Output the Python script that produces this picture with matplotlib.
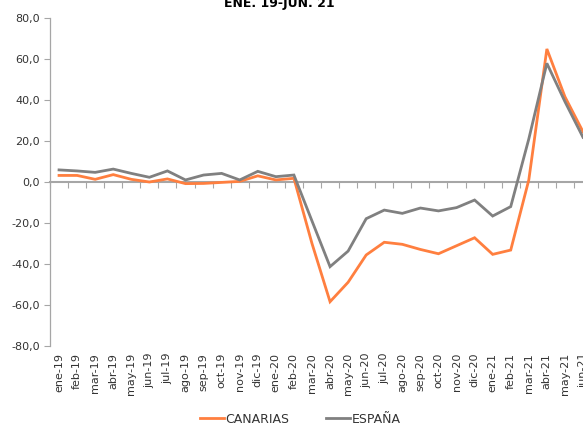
import numpy as np
import matplotlib.pyplot as plt

months = ['ene-19', 'feb-19', 'mar-19', 'abr-19', 'may-19', 'jun-19', 'jul-19', 'ago-19',
          'sep-19', 'oct-19', 'nov-19', 'dic-19', 'ene-20', 'feb-20', 'mar-20', 'abr-20',
          'may-20', 'jun-20', 'jul-20', 'ago-20', 'sep-20', 'oct-20', 'nov-20', 'dic-20',
          'ene-21', 'feb-21', 'mar-21', 'abr-21', 'may-21', 'jun-21']

canarias = [3.2, 3.2, 1.3, 3.6, 1.3, 0.0, 1.5, -0.8, -0.7, -0.2, 0.3, 3.0, 1.0, 1.8,
            -30.0, -58.4, -48.9, -35.6, -29.4, -30.4, -32.9, -35.0, -31.1, -27.2,
            -35.3, -33.2, 1.0, 64.9, 41.6, 24.5]
espana = [5.9, 5.4, 4.7, 6.3, 4.2, 2.3, 5.4, 1.0, 3.4, 4.2, 1.0, 5.2, 2.6, 3.4,
          -19.0, -41.3, -33.7, -17.9, -13.7, -15.3, -12.7, -14.1, -12.5, -8.8,
          -16.6, -12.0, 21.0, 57.9, 39.2, 21.8]

title = 'ENE. 19-JUN. 21'

orange = '#FF7F3F'
grey = '#808080'
axis_grey = '#A6A6A6'
txt = '#333333'

x = np.arange(len(months))

fig = plt.figure(figsize=(5.83, 4.26), dpi=100)
ax = fig.add_axes([50 / 583, 80 / 426, 533 / 583, 328 / 426])

ax.plot(x, canarias, color=orange, lw=2.0, label='CANARIAS', solid_joinstyle='miter')
ax.plot(x, espana, color=grey, lw=2.0, label='ESPAÑA', solid_joinstyle='miter')

ax.set_xlim(-0.5, 29.0)
ax.set_ylim(-80, 80)

ax.set_yticks(np.arange(-80, 81, 20))
ax.set_yticklabels([f'{v:.1f}'.replace('.', ',') for v in np.arange(-80, 81, 20)])
ax.tick_params(axis='y', colors=axis_grey, labelcolor=txt, labelsize=8, length=4, width=0.8)

ax.set_xticks(x)
ax.set_xticklabels(months, rotation=90, fontsize=8, color=txt)
ax.tick_params(axis='x', length=0, pad=5)

for s in ['top', 'right', 'bottom']:
    ax.spines[s].set_visible(False)
ax.spines['left'].set_color(axis_grey)
ax.spines['left'].set_linewidth(0.9)

# category axis line drawn at y=0 with ticks between categories
sec = ax.secondary_xaxis(0.5)
sec.set_xticks(np.arange(-0.5, 29.5, 1))
sec.set_xticklabels([])
sec.xaxis.set_ticks_position('bottom')
sec.tick_params(axis='x', direction='out', length=4, width=0.8, colors=axis_grey)
for sp in sec.spines.values():
    sp.set_color(axis_grey)
    sp.set_linewidth(1.5)

fig.text(0.479, 1 - 7 / 426, title, ha='center', va='baseline',
         fontsize=9, fontweight='bold', color='black')

fig.legend(loc='center', bbox_to_anchor=(0.515, 0.016), ncol=2, frameon=False,
           fontsize=9, handlelength=1.9, handletextpad=0.1, columnspacing=3.0,
           labelcolor=txt)

plt.savefig('out.png', dpi=100)
plt.close()
